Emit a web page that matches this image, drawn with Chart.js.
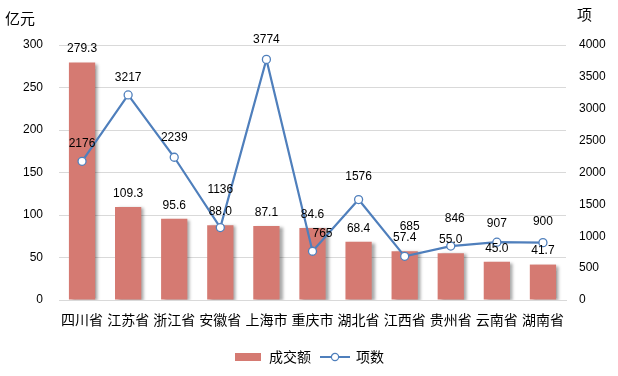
<!DOCTYPE html>
<html>
<head>
<meta charset="utf-8">
<script src="https://cdn.jsdelivr.net/npm/chart.js@4.4.0/dist/chart.umd.min.js"></script>
<style>
  html, body { margin: 0; padding: 0; background: #fff; }
  #wrap { width: 618px; height: 376px; position: relative; }
</style>
</head>
<body>
<div id="wrap"><canvas id="c"></canvas></div>
<script>
// categories and values
var provinces = ["四川省", "江苏省", "浙江省", "安徽省", "上海市", "重庆市", "湖北省", "江西省", "贵州省", "云南省", "湖南省"];
var amount = [279.3, 109.3, 95.6, 88.0, 87.1, 84.6, 68.4, 57.4, 55.0, 45.0, 41.7];
var projects = [2176, 3217, 2239, 1136, 3774, 765, 1576, 685, 846, 907, 900];
var leftTicks = [0, 50, 100, 150, 200, 250, 300];
var rightTicks = [0, 500, 1000, 1500, 2000, 2500, 3000, 3500, 4000];

var barColor = "#d57a72";
var lineColor = "#4f7fbc";

// the line labels were nudged by hand in the original, [dx, dy above point]
var lineLabelNudge = [[0, 18], [0, 17], [0, 20], [0, 38], [0, 20], [10, 18], [0, 23], [5, 30], [4, 27], [0, 18], [0, 21]];

Chart.defaults.font.family = '"Liberation Sans", "Noto Sans CJK SC", sans-serif';
Chart.defaults.color = "#000";

// little legend pictures, excel style
function legendBox() {
    var c = document.createElement("canvas");
    c.width = 26; c.height = 8;
    var g = c.getContext("2d");
    g.fillStyle = barColor;
    g.fillRect(0, 0, 26, 8);
    return c;
}
function legendLine() {
    var c = document.createElement("canvas");
    c.width = 30; c.height = 10;
    var g = c.getContext("2d");
    g.strokeStyle = lineColor;
    g.lineWidth = 2;
    g.beginPath(); g.moveTo(0, 5); g.lineTo(30, 5); g.stroke();
    g.fillStyle = "#fff";
    g.lineWidth = 1.2;
    g.beginPath(); g.arc(15, 5, 3.6, 0, Math.PI * 2); g.fill(); g.stroke();
    return c;
}

// shadow under the bars
var barShadow = {
    id: "barShadow",
    beforeDatasetDraw: function (chart, args) {
        if (args.meta.type !== "bar") return;
        var ctx = chart.ctx;
        ctx.save();
        ctx.shadowColor = "rgba(0,0,0,0.35)";
        ctx.shadowBlur = 3;
        ctx.shadowOffsetX = 3;
        ctx.shadowOffsetY = 1;
    },
    afterDatasetDraw: function (chart, args) {
        if (args.meta.type !== "bar") return;
        chart.ctx.restore();
    }
};

// value labels + unit titles
var valueLabels = {
    id: "valueLabels",
    afterDatasetsDraw: function (chart) {
        var ctx = chart.ctx;
        ctx.save();
        ctx.fillStyle = "#000";
        ctx.textAlign = "center";
        ctx.textBaseline = "middle";
        ctx.font = '12px "Liberation Sans", sans-serif';
        chart.data.datasets.forEach(function (ds, i) {
            var meta = chart.getDatasetMeta(i);
            meta.data.forEach(function (el, j) {
                var v = ds.data[j];
                if (meta.type === "bar") {
                    ctx.fillText(v.toFixed(1), el.x, el.y - 13.5);
                } else {
                    var n = lineLabelNudge[j] || [0, 18];
                    ctx.fillText(String(v), el.x + n[0], el.y - n[1]);
                }
            });
        });
        ctx.font = '15px "Noto Sans CJK SC", sans-serif';
        ctx.textAlign = "left";
        ctx.fillText("亿元", 5, 18);
        ctx.fillText("项", 577, 14);
        ctx.restore();
    }
};

new Chart(document.getElementById("c"), {
    type: "bar",
    data: {
        labels: provinces,
        datasets: [
            {
                type: "line",
                label: "项数",
                data: projects,
                yAxisID: "y1",
                borderColor: lineColor,
                borderWidth: 2.2,
                pointRadius: 4,
                pointBackgroundColor: "#fff",
                pointBorderColor: lineColor,
                pointBorderWidth: 1.3,
                tension: 0,
                order: 0
            },
            {
                type: "bar",
                label: "成交额",
                data: amount,
                yAxisID: "y",
                backgroundColor: barColor,
                categoryPercentage: 1,
                barPercentage: 0.57,
                order: 1
            }
        ]
    },
    options: {
        responsive: true,
        maintainAspectRatio: false,
        animation: false,
        layout: { padding: { top: 45, left: 0, right: 0, bottom: 2 } },
        plugins: {
            tooltip: { enabled: false },
            legend: {
                position: "bottom",
                labels: {
                    usePointStyle: true,
                    pointStyleWidth: 28,
                    padding: 10,
                    font: { size: 14, family: '"Noto Sans CJK SC", sans-serif' },
                    generateLabels: function (chart) {
                        return [
                            { text: "成交额", pointStyle: legendBox(), datasetIndex: 1, lineWidth: 0, strokeStyle: "transparent", fillStyle: barColor },
                            { text: "项数", pointStyle: legendLine(), datasetIndex: 0, lineWidth: 0, strokeStyle: "transparent", fillStyle: lineColor }
                        ];
                    }
                }
            }
        },
        scales: {
            x: {
                grid: { display: false },
                border: { color: "#d9d9d9" },
                ticks: {
                    font: { size: 14, family: '"Noto Sans CJK SC", sans-serif' },
                    padding: 3,
                    maxRotation: 0,
                    autoSkip: false
                },
                afterFit: function (s) { s.height = 40; }
            },
            y: {
                position: "left",
                min: 0,
                max: leftTicks[leftTicks.length - 1],
                afterBuildTicks: function (s) { s.ticks = leftTicks.map(function (v) { return { value: v }; }); },
                grid: { color: "#d9d9d9", drawTicks: false },
                border: { display: false },
                ticks: { font: { size: 12 }, padding: 16, callback: function (v) { return String(v); } },
                afterFit: function (s) { s.width = 59; }
            },
            y1: {
                position: "right",
                min: 0,
                max: rightTicks[rightTicks.length - 1],
                afterBuildTicks: function (s) { s.ticks = rightTicks.map(function (v) { return { value: v }; }); },
                grid: { drawOnChartArea: false, drawTicks: false },
                border: { display: false },
                ticks: { font: { size: 12 }, padding: 13, callback: function (v) { return String(v); } },
                afterFit: function (s) { s.width = 52; }
            }
        }
    },
    plugins: [barShadow, valueLabels]
});
</script>
</body>
</html>
